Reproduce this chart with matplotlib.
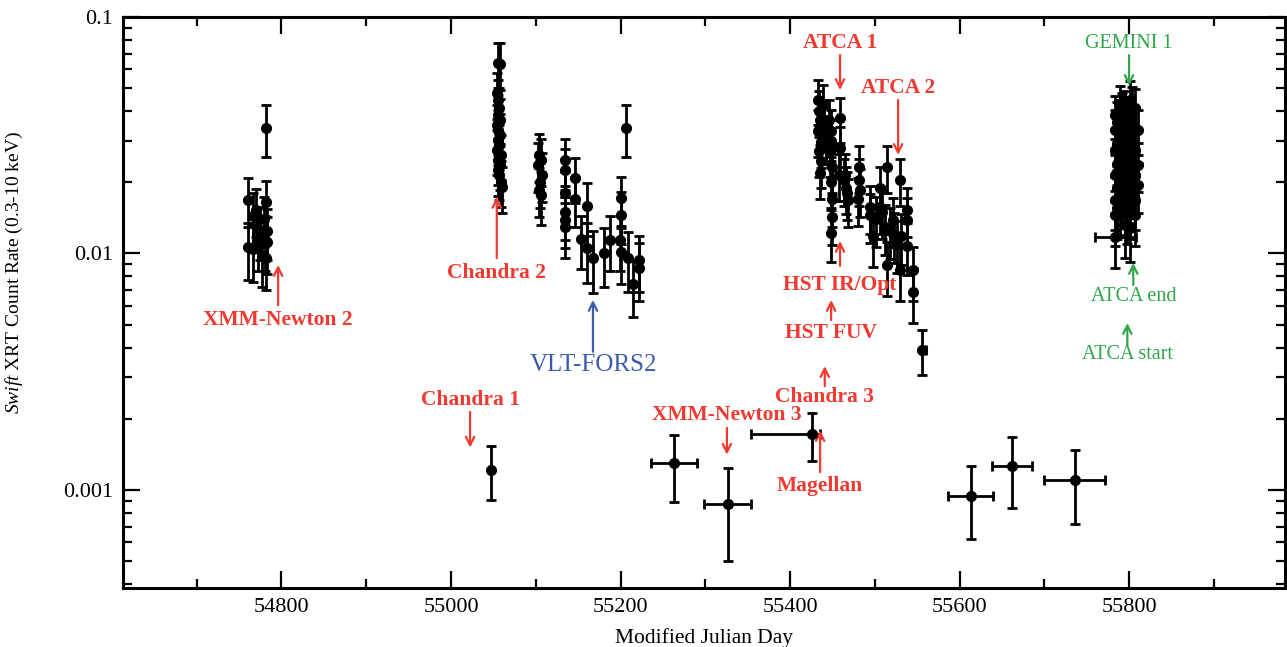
import numpy as np
import matplotlib
matplotlib.use('Agg')
import matplotlib.pyplot as plt
from matplotlib.ticker import MultipleLocator, FixedLocator, LogLocator, NullFormatter

plt.rcParams['font.family'] = ['Liberation Serif', 'DejaVu Serif']
plt.rcParams['mathtext.fontset'] = 'custom'
plt.rcParams['mathtext.it'] = 'Liberation Serif:italic'
plt.rcParams['mathtext.rm'] = 'Liberation Serif'

# --- outburst 2008 (XMM-Newton 2)
ob1_mjd = [54760.5, 54760.5, 54766.5, 54766.5, 54770, 54772, 54774.5, 54777,
           54779, 54780.5, 54782, 54782, 54782, 54783, 54783]
ob1_rate = [0.0169, 0.0106, 0.0144, 0.0104, 0.0152, 0.0114, 0.0126, 0.0098,
            0.0140, 0.0114, 0.0165, 0.0096, 0.0340, 0.0112, 0.0124]
ob1_err = [0.0040, 0.0029, 0.0036, 0.0028, 0.0035, 0.0030, 0.0032, 0.0026,
           0.0034, 0.0030, 0.0038, 0.0026, 0.0085, 0.0030, 0.0030]

# --- outburst 2009 (Chandra 2 / VLT)
ob2_mjd = [55055, 55058, 55054, 55056, 55057, 55055, 55058, 55054, 55056, 55058,
           55055, 55057, 55054, 55059, 55056, 55058, 55055, 55057, 55059, 55060,
           55104, 55106, 55103, 55107, 55105, 55104, 55106,
           55134.5, 55134.5, 55134.5, 55134.5, 55134.5, 55134.5,
           55146, 55146, 55153, 55160.5, 55160.5, 55167.5, 55180.5, 55187.5,
           55199.5, 55200.5, 55200.5, 55200.5, 55206.5, 55209, 55215, 55222, 55222]
ob2_rate = [0.0639, 0.0633, 0.0477, 0.0446, 0.0412, 0.0385, 0.0367, 0.0349, 0.0333, 0.0317,
            0.0302, 0.0288, 0.0274, 0.0261, 0.0249, 0.0237, 0.0225, 0.0215, 0.0201, 0.0191,
            0.0261, 0.0249, 0.0237, 0.0215, 0.0201, 0.0186, 0.0177,
            0.0249, 0.0225, 0.0180, 0.0150, 0.0139, 0.0130,
            0.0209, 0.0170, 0.0115, 0.0159, 0.0105, 0.0096, 0.0100, 0.0114,
            0.0114, 0.0171, 0.0146, 0.0101, 0.0340, 0.0096, 0.0074, 0.0094, 0.0087]
ob2_err = [0.0140, 0.0140, 0.0105, 0.0098, 0.0091, 0.0085, 0.0081, 0.0077, 0.0073, 0.0070,
           0.0066, 0.0063, 0.0060, 0.0057, 0.0055, 0.0052, 0.0050, 0.0047, 0.0044, 0.0042,
           0.0060, 0.0057, 0.0055, 0.0050, 0.0046, 0.0043, 0.0045,
           0.0057, 0.0052, 0.0042, 0.0036, 0.0034, 0.0034,
           0.0045, 0.0040, 0.0029, 0.0040, 0.0030, 0.0028, 0.0028, 0.0030,
           0.0030, 0.0040, 0.0036, 0.0027, 0.0085, 0.0027, 0.0020, 0.0025, 0.0024]

# --- outburst 2010 (ATCA 1/2, HST, Magellan)
ob3_mjd = [55433, 55434, 55435.5, 55433, 55436, 55434, 55437, 55435, 55439, 55440,
           55442, 55446, 55448, 55448, 55447, 55449, 55448, 55450, 55449, 55448,
           55459, 55459, 55458, 55464, 55466, 55467, 55468, 55465,
           55481, 55481, 55482, 55480, 55494, 55498, 55494, 55502, 55506, 55506,
           55508, 55514.5, 55514.5, 55512, 55518, 55521.5, 55523, 55526, 55530,
           55530, 55531, 55538, 55538, 55538, 55545, 55545]
ob3_rate = [0.0445, 0.0400, 0.0367, 0.0330, 0.0295, 0.0270, 0.0245, 0.0220, 0.0425, 0.0350,
            0.0310, 0.0367, 0.0330, 0.0300, 0.0270, 0.0232, 0.0200, 0.0170, 0.0143, 0.0122,
            0.0374, 0.0279, 0.0215, 0.0205, 0.0190, 0.0180, 0.0168, 0.0215,
            0.0232, 0.0205, 0.0185, 0.0170, 0.0157, 0.0118, 0.0145, 0.0140, 0.0190, 0.0157,
            0.0150, 0.0232, 0.0089, 0.0130, 0.0125, 0.0139, 0.0120, 0.0110, 0.0205,
            0.0085, 0.0118, 0.0153, 0.0139, 0.0108, 0.0085, 0.0069]
ob3_err = [0.0095, 0.0088, 0.0080, 0.0073, 0.0066, 0.0060, 0.0055, 0.0050, 0.0092, 0.0078,
           0.0070, 0.0080, 0.0073, 0.0067, 0.0060, 0.0052, 0.0045, 0.0040, 0.0034, 0.0030,
           0.0082, 0.0062, 0.0048, 0.0046, 0.0043, 0.0041, 0.0039, 0.0048,
           0.0052, 0.0046, 0.0042, 0.0039, 0.0036, 0.0030, 0.0034, 0.0033, 0.0043, 0.0036,
           0.0035, 0.0052, 0.0023, 0.0031, 0.0030, 0.0033, 0.0029, 0.0027, 0.0046,
           0.0022, 0.0029, 0.0036, 0.0033, 0.0027, 0.0022, 0.0018]

# --- outburst 2011 (GEMINI 1 / ATCA)
ob4_mjd = [55783.5, 55783.5, 55783.5, 55783.5, 55783.5, 55783.5,
           55786, 55786, 55786, 55786, 55786,
           55789.5, 55789.5, 55789.5, 55789.5, 55789.5, 55789.5,
           55792, 55792, 55792, 55792, 55792,
           55795, 55795, 55795, 55795, 55795, 55795,
           55798, 55798, 55798, 55798, 55798,
           55801, 55801, 55801, 55801, 55801, 55801, 55801, 55801,
           55804, 55804, 55804, 55804, 55804,
           55807, 55807, 55807, 55807, 55807, 55807,
           55810.5, 55810.5, 55810.5]
ob4_rate = [0.0385, 0.0333, 0.0274, 0.0215, 0.0168, 0.0146,
            0.0360, 0.0290, 0.0240, 0.0190, 0.0155,
            0.0425, 0.0367, 0.0302, 0.0249, 0.0195, 0.0160,
            0.0395, 0.0320, 0.0265, 0.0210, 0.0175,
            0.0404, 0.0349, 0.0288, 0.0225, 0.0186, 0.0132,
            0.0380, 0.0300, 0.0255, 0.0200, 0.0150,
            0.0446, 0.0367, 0.0317, 0.0261, 0.0205, 0.0177, 0.0153, 0.0128,
            0.0420, 0.0340, 0.0280, 0.0230, 0.0190,
            0.0412, 0.0333, 0.0274, 0.0215, 0.0168, 0.0146,
            0.0333, 0.0237, 0.0195]
ob4_err = [0.0080, 0.0072, 0.0062, 0.0050, 0.0042, 0.0038,
           0.0078, 0.0065, 0.0055, 0.0045, 0.0040,
           0.0085, 0.0078, 0.0066, 0.0056, 0.0046, 0.0040,
           0.0082, 0.0070, 0.0060, 0.0050, 0.0043,
           0.0083, 0.0075, 0.0064, 0.0052, 0.0044, 0.0036,
           0.0080, 0.0066, 0.0058, 0.0047, 0.0040,
           0.0090, 0.0078, 0.0070, 0.0060, 0.0048, 0.0043, 0.0038, 0.0036,
           0.0086, 0.0073, 0.0062, 0.0053, 0.0045,
           0.0084, 0.0072, 0.0062, 0.0050, 0.0042, 0.0038,
           0.0072, 0.0055, 0.0046]

# --- binned points (with time-bin widths)
bin_mjd = [55047, 55263, 55326.5, 55425.5, 55613, 55662, 55736, 55784, 55556]
bin_rate = [0.00122, 0.00130, 0.00087, 0.00172, 0.00094, 0.00126, 0.00110, 0.01175, 0.0039]
bin_err = [0.00031, 0.00041, 0.00037, 0.00040, 0.00032, 0.00042, 0.00038, 0.0031, 0.00085]
bin_dt_lo = [0.5, 27, 28, 71, 26.5, 24, 36, 24, 1]
bin_dt_hi = [0.5, 27, 28, 10, 26.5, 24, 36, 24, 4]

# --- observation markers: label, mjd, label rate, arrow tail rate, arrow head rate, colour, size, weight
RED, GREEN, BLUE = '#ee3a30', '#2fa64a', '#3a5cab'
obs = [
    ('XMM-Newton 2', 54796, 0.00523, 0.00605, 0.00894, RED, 15.5, 'bold'),
    ('Chandra 2', 55054, 0.00827, 0.00957, 0.01734, RED, 15.5, 'bold'),
    ('Chandra 1', 55022.5, 0.00240, 0.00214, 0.00151, RED, 15.5, 'bold'),
    ('XMM-Newton 3', 55325.5, 0.00208, 0.00183, 0.00141, RED, 15.5, 'bold'),
    ('Chandra 3', 55441, 0.00247, 0.00275, 0.00334, RED, 15.5, 'bold'),
    ('Magellan', 55435.5, 0.00104, 0.00119, 0.00179, RED, 15.5, 'bold'),
    ('HST FUV', 55448.5, 0.00461, 0.00523, 0.00636, RED, 15.5, 'bold'),
    ('HST IR/Opt', 55459, 0.00736, 0.00886, 0.0113, RED, 15.5, 'bold'),
    ('ATCA 1', 55459, 0.0776, 0.069, 0.0491, RED, 15.5, 'bold'),
    ('ATCA 2', 55527.5, 0.0501, 0.0446, 0.0261, RED, 15.5, 'bold'),
    ('GEMINI 1', 55800, 0.0776, 0.069, 0.0511, GREEN, 14.5, 'normal'),
    ('ATCA end', 55805, 0.00655, 0.00736, 0.00912, GREEN, 14.5, 'normal'),
    ('ATCA start', 55798, 0.00373, 0.0041, 0.00508, GREEN, 14.5, 'normal'),
    ('VLT-FORS2', 55167.5, 0.00338, 0.00384, 0.00636, BLUE, 18, 'normal'),
]

fig = plt.figure(figsize=(12.87, 6.47), dpi=100)
ax = fig.add_axes([123 / 1287, 1 - 588 / 647, (1285 - 123) / 1287, (588 - 17) / 647])

eb = dict(fmt='o', color='black', ms=7, elinewidth=2, capsize=3.4, capthick=2, zorder=3)
for m, r, e in [(ob1_mjd, ob1_rate, ob1_err), (ob2_mjd, ob2_rate, ob2_err),
                (ob3_mjd, ob3_rate, ob3_err), (ob4_mjd, ob4_rate, ob4_err)]:
    ax.errorbar(m, r, yerr=e, **eb)
ax.errorbar(bin_mjd, bin_rate, yerr=bin_err, xerr=[bin_dt_lo, bin_dt_hi], **eb)

for label, x, ylab, ytail, yhead, c, fs, fw in obs:
    ax.annotate('', xy=(x, yhead), xytext=(x, ytail),
                arrowprops=dict(arrowstyle='->', color=c, lw=1.6, mutation_scale=15,
                                shrinkA=0, shrinkB=0))
    ax.text(x, ylab, label, color=c, fontsize=fs, fontweight=fw,
            ha='center', va='center')

ax.set_yscale('log')
ax.set_xlim(54613, 55984)
ax.set_ylim(3.85e-4, 0.1)
ax.xaxis.set_major_locator(MultipleLocator(200))
ax.xaxis.set_minor_locator(MultipleLocator(100))
ax.yaxis.set_major_locator(FixedLocator([0.001, 0.01, 0.1]))
ax.set_yticklabels(['0.001', '0.01', '0.1'])
ax.yaxis.set_minor_locator(LogLocator(base=10, subs=np.arange(2, 10)))
ax.yaxis.set_minor_formatter(NullFormatter())

ax.tick_params(which='both', direction='in', top=True, right=True, width=1.6,
               labelsize=16)
ax.tick_params(which='major', length=12, pad=7)
ax.tick_params(which='minor', length=6.5)
for s in ax.spines.values():
    s.set_linewidth(2.2)

ax.set_xlabel('Modified Julian Day', fontsize=15.5, labelpad=8)
ax.set_ylabel(r'$\mathit{Swift}$ XRT Count Rate (0.3-10 keV)', fontsize=14)
ax.yaxis.set_label_coords(-0.084, 0.553)

fig.savefig('out.png', dpi=100)
